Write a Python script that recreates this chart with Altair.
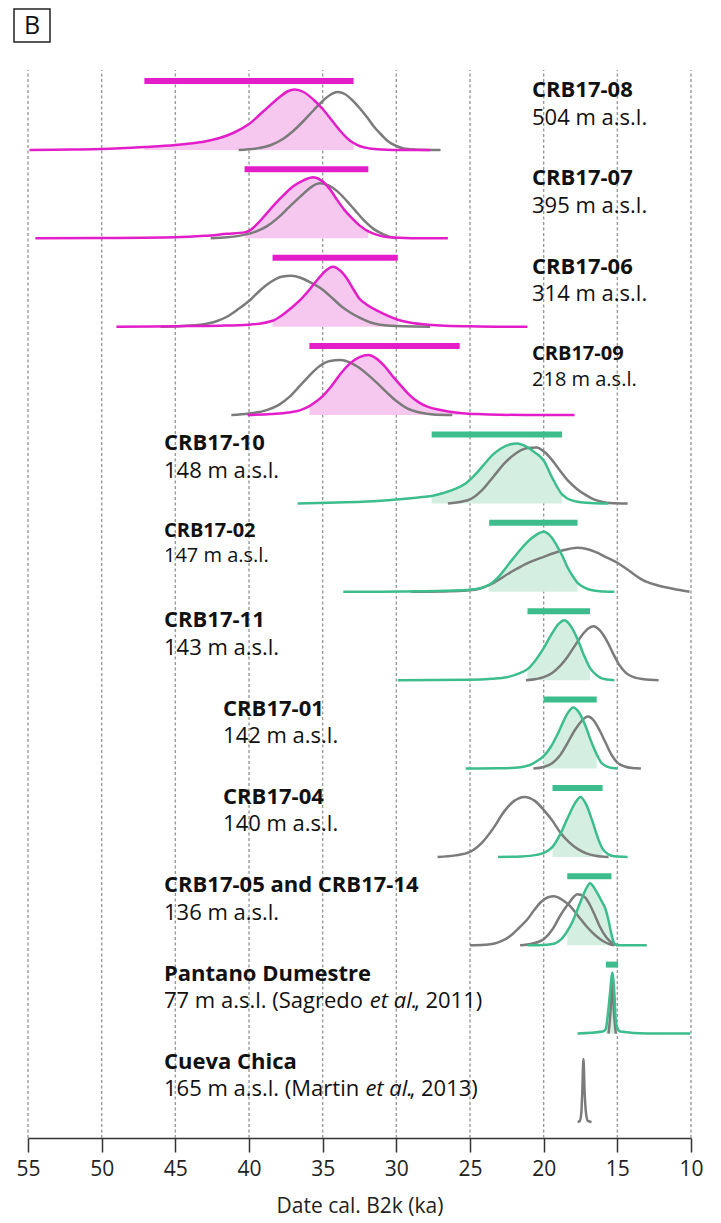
import altair as alt
import pandas as pd

# ---------------- data ----------------
TICKS = [55, 50, 45, 40, 35, 30, 25, 20, 15, 10]

NAMES = ["CRB17-08", "CRB17-07", "CRB17-06", "CRB17-09", "CRB17-10", "CRB17-02",
         "CRB17-11", "CRB17-01", "CRB17-04", "CRB17-05 and CRB17-14",
         "Pantano Dumestre", "Cueva Chica"]
ALTS = ["504 m a.s.l.", "395 m a.s.l.", "314 m a.s.l.", "218 m a.s.l.", "148 m a.s.l.",
        "147 m a.s.l.", "143 m a.s.l.", "142 m a.s.l.", "140 m a.s.l.", "136 m a.s.l.",
        "77 m a.s.l. (Sagredo", "165 m a.s.l. (Martin"]
CITE_ITALIC = "et al."
CITE_YEAR = [", 2011)", ", 2013)"]
GROUP = ["upper"] * 4 + ["lower"] * 7 + ["none"]

# 95% ranges (ka)
BAR_LO = [47.1, 40.3, 38.4, 35.9, 27.6, 23.7, 21.1, 20.0, 19.4, 18.4, 15.77]
BAR_HI = [32.9, 31.9, 29.9, 25.7, 18.75, 17.7, 16.85, 16.4, 16.0, 15.4, 14.95]

# probability curves: age (ka) and relative density
r0_main_x = [54.9, 52, 50, 47.1, 45, 44, 43, 42, 41, 40, 39, 38, 37.4, 36.9, 36.3, 35.6, 35, 34.4, 33.8, 33.2, 32.9, 32.5, 31.8, 31, 29.5, 27.7]
r0_main_h = [0, 0.5, 1, 3, 5, 6.5, 8.5, 12, 17.5, 26, 39, 52, 58.5, 60.5, 58, 50, 41, 30, 19, 10, 7, 4, 1.5, 0.5, 0, 0]
r0_gray_x = [40.7, 39.5, 38.5, 37.7, 37, 36.3, 35.6, 35, 34.5, 34.0, 33.5, 33, 32.5, 32, 31.5, 31, 30.5, 30, 29.5, 28.5, 27]
r0_gray_h = [0, 1.5, 5, 11, 19, 29, 40, 49, 55, 58, 56, 50, 42, 33, 23, 15, 8, 4, 1.5, 0.3, 0]

r1_main_x = [54.5, 50, 45, 43, 41.5, 40.3, 40, 39.4, 38.8, 38.2, 37.6, 37, 36.3, 35.65, 35.1, 34.5, 34, 33.5, 33, 32.5, 31.9, 31.3, 30.5, 29, 26.5]
r1_main_h = [0, 0.3, 1, 2.5, 4.5, 6, 7.5, 15, 25, 35, 44, 52, 58, 61, 58, 49, 38, 28, 20, 13, 7, 3.5, 1, 0.2, 0]
r1_gray_x = [42.6, 41.5, 40.5, 39.5, 38.8, 38, 37.3, 36.5, 35.8, 35.2, 34.6, 34, 33.4, 32.8, 32.2, 31.5, 30.8, 30]
r1_gray_h = [0, 1, 3, 7, 12, 21, 31, 42, 51, 55, 53, 47, 38, 28, 18, 9, 3.5, 0]

r2_main_x = [49, 45, 42, 40, 38.4, 37.8, 37.2, 36.5, 35.9, 35.3, 34.8, 34.3, 33.8, 33.3, 32.9, 32.5, 32.0, 31.3, 30.6, 29.9, 29, 28, 27, 25, 23, 21.1]
r2_main_h = [0, 0.5, 1, 2, 6, 11, 18, 27, 37, 48, 56, 60, 56, 47, 37, 28, 22, 16, 11, 7, 4, 2.2, 1.2, 0.4, 0, 0]
r2_gray_x = [46, 44.5, 43.3, 42.3, 41.5, 40.7, 39.9, 39.2, 38.5, 37.8, 37.1, 36.5, 35.8, 35, 34.3, 33.7, 33.1, 32.5, 31.8, 31.1, 29.5, 27.7]
r2_gray_h = [0, 0.7, 2, 5, 10, 18, 27, 37, 45, 50, 51, 49, 44, 37, 28, 20, 14, 9, 4.5, 2, 0.4, 0]

r3_main_x = [40.1, 38.5, 37.3, 36.5, 35.9, 35.4, 35, 34.4, 33.8, 33.2, 32.5, 31.9, 31.4, 30.8, 30.2, 29.6, 29.1, 28.5, 27.9, 27, 25.7, 24.5, 23, 20, 17.9]
r3_main_h = [0, 1, 2.5, 5, 9, 14, 19, 29, 41, 51, 58, 60, 57, 49, 38, 28, 20, 13, 8.5, 5, 2, 1, 0.3, 0, 0]
r3_gray_x = [41.2, 40, 38.8, 38, 37.2, 36.5, 35.8, 35.2, 34.5, 33.8, 33.2, 32.5, 31.9, 31.3, 30.6, 30, 29.3, 28.4, 27.5, 26.2]
r3_gray_h = [0, 1.5, 5, 10, 19, 30, 41, 49, 54, 55, 53, 47, 40, 32, 22, 14, 7, 2.5, 0.5, 0]

r4_main_x = [36.7, 34, 32, 30, 28.5, 27.6, 26.8, 26, 25.3, 24.7, 24.1, 23.5, 22.9, 22.3, 21.8, 21.2, 20.6, 20.0, 19.4, 18.75, 18.4, 17.8, 17.1, 16, 15.6]
r4_main_h = [0, 1, 2, 4, 6, 7.5, 10.5, 14.5, 20, 28, 38, 48, 55, 59, 60, 57, 51, 43, 25, 9, 5, 2, 0.6, 0, 0]
r4_gray_x = [26.5, 25.5, 25, 24.2, 23.4, 22.6, 21.8, 21.1, 20.5, 19.9, 19.3, 18.9, 18.3, 17.7, 17.1, 16.6, 16, 15.5, 14.3]
r4_gray_h = [0, 2, 4, 13, 27, 41, 51, 55.5, 56, 51, 41, 33, 22, 14, 8, 4, 1.5, 0.5, 0]

r5_main_x = [33.6, 28, 25.5, 24.5, 23.7, 23, 22.3, 21.7, 21.1, 20.5, 20.0, 19.5, 19.1, 18.7, 18.4, 18.0, 17.7, 17.2, 16.6, 15.9, 15.2]
r5_main_h = [0, 0.5, 1.5, 3, 7, 16, 29, 40, 50, 57, 60, 55, 46, 35, 25, 15, 9, 4, 1.2, 0.3, 0]
r5_gray_x = [29, 27, 25.5, 24.5, 23.4, 22.3, 21.2, 20.0, 18.8, 17.7, 16.5, 15.8, 15.0, 14.2, 13.3, 12.4, 11.4, 10.5, 10.1]
r5_gray_h = [0, 0.3, 1, 2.5, 9, 19, 28, 35, 41, 44, 40, 35, 29, 21, 12, 7, 3.5, 1, 0]

r6_main_x = [29.9, 25, 23.5, 22.5, 21.7, 21.1, 20.6, 20, 19.5, 19.0, 18.6, 18.2, 17.7, 17.3, 16.85, 16.4, 16.0, 15.5, 15.2]
r6_main_h = [0, 0.5, 1.5, 3, 6.5, 11, 19, 32, 45, 56, 60, 55, 41, 26, 12, 5, 1.5, 0.3, 0]
r6_gray_x = [21.2, 20.5, 20, 19.4, 18.9, 18.4, 17.9, 17.4, 16.95, 16.6, 16.2, 15.7, 15.3, 14.9, 14.4, 13.9, 13, 12.2]
r6_gray_h = [0, 1.2, 3, 7.5, 14, 23, 34, 45, 52, 54, 50, 39, 27, 16, 7, 3, 0.6, 0]

r7_main_x = [25.3, 23, 22, 21.3, 20.8, 20.4, 20.0, 19.5, 19.0, 18.5, 18.0, 17.6, 17.2, 16.8, 16.4, 16.1, 15.7, 15.3, 15.0]
r7_main_h = [0, 0.3, 0.8, 2, 4.5, 8, 12.5, 22, 36, 52, 61, 56, 44, 28, 14, 6, 2, 0.5, 0]
r7_gray_x = [20.7, 20, 19.4, 18.9, 18.4, 17.9, 17.4, 17.0, 16.6, 16.2, 15.8, 15.4, 15.0, 14.5, 14, 13.4]
r7_gray_h = [0, 1.5, 5.5, 13, 25, 38, 48, 52, 48, 38, 26, 14, 6, 2, 0.5, 0]

r8_main_x = [23.1, 21.5, 20.5, 20, 19.4, 18.9, 18.4, 17.9, 17.5, 17.1, 16.7, 16.3, 16.0, 15.6, 15.2, 14.3]
r8_main_h = [0, 0.5, 2, 4, 10, 22, 38, 53, 60, 52, 36, 18, 8, 2.5, 0.6, 0]
r8_gray_x = [27.2, 26, 25, 24.2, 23.4, 22.7, 22, 21.3, 20.6, 20.0, 19.4, 18.9, 18.3, 17.7, 17.1, 16.5, 15.6]
r8_gray_h = [0, 1.5, 5, 14, 29, 45, 56, 60, 56, 47, 36, 25, 15, 8, 3.5, 1.2, 0]

r9_main_x = [21.1, 20, 19.3, 18.8, 18.4, 18.0, 17.7, 17.4, 17.1, 16.85, 16.6, 16.4, 16.1, 15.8, 15.6, 15.4, 15.25, 15.1, 14.8, 13.0]
r9_main_h = [0, 0.3, 1.5, 6, 14, 25, 36, 47, 57, 62, 58, 53, 45, 36, 25, 11, 3, 0.5, 0, 0]
r9_grayA_x = [25.0, 24, 23.4, 22.8, 22.3, 21.7, 21.1, 20.6, 20.2, 19.7, 19.3, 18.8, 18.2, 17.7, 17.1, 16.5, 15.95, 15.5, 15.2]
r9_grayA_h = [0, 0.5, 1.5, 4.5, 9, 17, 26, 36, 43, 48, 49, 46, 39, 30, 19, 10, 4, 1, 0]
r9_grayB_x = [21.6, 20.8, 20.0, 19.4, 18.9, 18.3, 17.7, 17.2, 16.85, 16.5, 16.2, 15.8, 15.5, 15.2, 15.0]
r9_grayB_h = [0, 1.5, 6, 16, 29, 42, 51, 48, 40, 29, 19, 9, 4, 1, 0]

r10_main_x = [17.7, 16.0, 15.77, 15.7, 15.5, 15.35, 15.2, 15.1, 14.95, 14.8, 13, 10.05]
r10_main_h = [0, 2, 5, 12, 40, 61, 40, 12, 4, 2, 0, 0]
r10_gray_x = [15.6, 15.45, 15.35, 15.25, 15.1]
r10_gray_h = [0, 25, 58, 25, 0]

r11_gray_x = [17.7, 17.55, 17.45, 17.38, 17.3, 17.22, 17.12, 17.0, 16.75]
r11_gray_h = [0, 1, 8, 30, 63, 30, 8, 1, 0]

MAIN = {0: (r0_main_x, r0_main_h), 1: (r1_main_x, r1_main_h), 2: (r2_main_x, r2_main_h),
        3: (r3_main_x, r3_main_h), 4: (r4_main_x, r4_main_h), 5: (r5_main_x, r5_main_h),
        6: (r6_main_x, r6_main_h), 7: (r7_main_x, r7_main_h), 8: (r8_main_x, r8_main_h),
        9: (r9_main_x, r9_main_h), 10: (r10_main_x, r10_main_h)}
GRAY = [(0, r0_gray_x, r0_gray_h), (1, r1_gray_x, r1_gray_h), (2, r2_gray_x, r2_gray_h),
        (3, r3_gray_x, r3_gray_h), (4, r4_gray_x, r4_gray_h), (5, r5_gray_x, r5_gray_h),
        (6, r6_gray_x, r6_gray_h), (7, r7_gray_x, r7_gray_h), (8, r8_gray_x, r8_gray_h),
        (9, r9_grayA_x, r9_grayA_h), (9, r9_grayB_x, r9_grayB_h), (10, r10_gray_x, r10_gray_h),
        (11, r11_gray_x, r11_gray_h)]

# ---------------- layout ----------------
MAG, PINK_FILL = "#e31ec9", "#f7c8ef"
GRN, GRN_FILL = "#3dbd8d", "#d4efe2"
GRY = "#7b7b7b"
PLOT_W, PLOT_H = 663, 1126
ROW0, STEP = 988.0, 88.36
GRID_TOP = 1068
BAR_OFF = 69
LABEL_X = [20.79] * 4 + [45.77] * 3 + [41.76] * 2 + [45.77] * 3
SMALL = {3, 5}
ITALIC_X = [31.8, 32.1]
YEAR_X = [28.8, 29.1]
FONT = "Open Sans"


def base(i):
    return ROW0 - STEP * i


rows = []
fills = []
for i, (xs, hs) in MAIN.items():
    lo, hi = sorted([BAR_LO[i], BAR_HI[i]])
    for x, h in zip(xs, hs):
        rec = dict(cid=f"m{i}", grp=GROUP[i], x=x, y=base(i) + h, yb=base(i))
        rows.append(rec)
        if lo - 1e-9 <= x <= hi + 1e-9:
            fills.append(rec)
gray_rows = []
for k, (i, xs, hs) in enumerate(GRAY):
    for x, h in zip(xs, hs):
        gray_rows.append(dict(cid=f"g{k}", grp="model", x=x, y=base(i) + h, yb=base(i)))

main_df = pd.DataFrame(rows)
fill_df = pd.DataFrame(fills)
gray_df = pd.DataFrame(gray_rows)
bar_df = pd.DataFrame({"lo": BAR_LO, "hi": BAR_HI, "grp": GROUP[:11],
                       "y": [base(i) + BAR_OFF for i in range(11)]})
grid_df = pd.DataFrame({"t": TICKS, "y0": 0, "y1": GRID_TOP})

yb_list = [base(i) + (55 if i in SMALL else 53) for i in range(12)]
yn_list = [base(i) + (29.5 if i in SMALL else 25.5) for i in range(12)]
lab = pd.DataFrame({"name": NAMES, "alt": ALTS, "x": LABEL_X,
                    "small": [i in SMALL for i in range(12)],
                    "yb": yb_list, "yn": yn_list})
cite = pd.DataFrame({"year": CITE_YEAR, "it": CITE_ITALIC, "xi": ITALIC_X, "xy": YEAR_X,
                     "y": [yn_list[10], yn_list[11]]})

XS = alt.Scale(domain=[10, 55], reverse=True, nice=False, zero=False)
YS = alt.Scale(domain=[0, PLOT_H], nice=False, zero=False)
XAX = alt.Axis(values=TICKS, format="d", grid=False, tickSize=14, tickWidth=1.5,
               tickColor="#333", domainColor="#333", domainWidth=1.5,
               labelFont=FONT, labelFontSize=21, labelColor="#222", labelPadding=6,
               labelFlush=False, labelOverlap=False,
               title="Date cal. B2k (ka)", titleFont=FONT, titleFontSize=21,
               titleFontWeight="normal", titleColor="#222", titlePadding=16)


def X(f):
    return alt.X(f, type="quantitative", scale=XS, axis=XAX)


def Y(f):
    return alt.Y(f, type="quantitative", scale=YS, axis=None)


STROKE = alt.Stroke("grp:N", scale=alt.Scale(domain=["upper", "lower", "model"],
                                             range=[MAG, GRN, GRY]), legend=None)
FILL = alt.Fill("grp:N", scale=alt.Scale(domain=["upper", "lower"],
                                         range=[PINK_FILL, GRN_FILL]), legend=None)

grid = alt.Chart(grid_df).mark_rule(color="#999999", strokeWidth=1.4, strokeDash=[3, 2.5]).encode(
    x=X("t"), y=Y("y0"), y2="y1")

area = alt.Chart(fill_df).mark_area(interpolate="monotone").encode(
    x=X("x"), y=Y("y"), y2="yb", fill=FILL, detail="cid:N")

gray_lines = alt.Chart(gray_df).mark_line(interpolate="monotone", strokeWidth=2.5).encode(
    x=X("x"), y=Y("y"), stroke=STROKE, detail="cid:N")

main_lines = alt.Chart(main_df).mark_line(interpolate="monotone", strokeWidth=2.5).encode(
    x=X("x"), y=Y("y"), stroke=STROKE, detail="cid:N")

bars = alt.Chart(bar_df).mark_rule(strokeWidth=6, strokeCap="butt").encode(
    x=X("lo"), x2="hi", y=Y("y"), stroke=STROKE)

txt = dict(align="left", baseline="alphabetic", font=FONT, color="#111")
layers = [grid, area, gray_lines, main_lines, bars]
for small, fs in [(False, 22), (True, 20)]:
    sub = lab[lab["small"] == small]
    layers.append(alt.Chart(sub).mark_text(fontWeight="bold", fontSize=fs, **txt).encode(
        x=X("x"), y=Y("yb"), text="name:N"))
    layers.append(alt.Chart(sub).mark_text(fontSize=fs, **txt).encode(
        x=X("x"), y=Y("yn"), text="alt:N"))

layers.append(alt.Chart(cite).mark_text(fontSize=22, fontStyle="italic", **txt).encode(
    x=X("xi"), y=Y("y"), text="it:N"))
layers.append(alt.Chart(cite).mark_text(fontSize=22, **txt).encode(
    x=X("xy"), y=Y("y"), text="year:N"))

one = pd.DataFrame({"k": [0]})
layers.append(alt.Chart(one).mark_rect(fill="white", stroke="#222", strokeWidth=1.5).encode(
    x=alt.value(-14), x2=alt.value(22), y=alt.value(-3), y2=alt.value(30)))
layers.append(alt.Chart(one).mark_text(text="B", font=FONT, fontSize=25, color="#111",
                                       align="center", baseline="middle").encode(
    x=alt.value(4), y=alt.value(14)))

chart = alt.layer(*layers).properties(
    width=PLOT_W, height=PLOT_H,
    autosize=alt.AutoSizeParams(type="none"),
    padding={"left": 20, "top": 4, "right": 20, "bottom": 82},
).configure_view(stroke=None)

chart.save("out.html", embed_options={"renderer": "svg", "actions": False})
